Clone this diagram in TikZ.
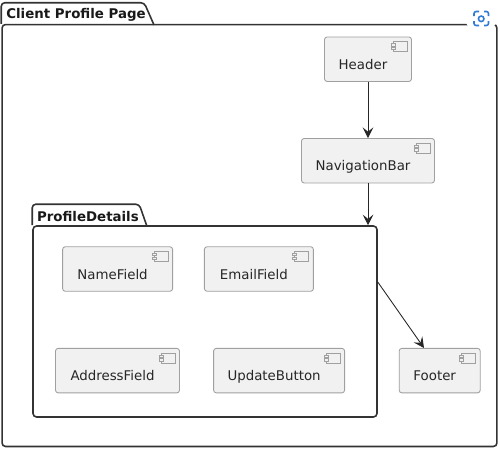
\documentclass[tikz,border=0pt]{standalone}
\usepackage{fontspec}
\setmainfont{DejaVu Sans}
\usepackage{tikz}
\usetikzlibrary{arrows.meta, calc}
\definecolor{compfill}{HTML}{F1F1F1}
\definecolor{compline}{HTML}{A0A0A0}
\definecolor{packline}{HTML}{333333}
\definecolor{lensblue}{HTML}{2F7BD6}
\tikzset{
  comp/.style={draw=compline, fill=compfill, line width=0.5pt, rounded corners=1.5pt, minimum height=0.89cm, inner sep=0pt, text=black!85, font=\fontsize{7.6}{9}\selectfont, text height=0.4cm, text depth=0pt, execute at end node={\kern 0.2cm}},
  pack/.style={draw=packline, line width=0.9pt, rounded corners=2pt, inner sep=0pt},
  packtitle/.style={anchor=base west, inner sep=0pt, text=black!90, font=\fontsize{7.6}{9}\selectfont\bfseries},
  flow/.style={draw=black!85, line width=0.5pt, -{Stealth[length=6pt, width=6pt, inset=2.4pt]}},
  compicon/.pic={
    \draw[draw=compline, line width=0.4pt, fill=compfill] (-19,5) rectangle (-5,15);
    \draw[draw=compline, line width=0.4pt, fill=compfill] (-21,7) rectangle (-17,9.5);
    \draw[draw=compline, line width=0.4pt, fill=compfill] (-21,10.8) rectangle (-17,13.3);
  }
}
\begin{document}
\begin{tikzpicture}[x=0.02cm, y=-0.02cm]
\useasboundingbox (0,0) rectangle (500,450);
\node[pack, minimum width=9.9cm, minimum height=8.44cm] (ClientPage) at (249.5,235.5) {};
\draw[pack] ($(ClientPage.north west)+(0,0)$) -- ++(0,-21) -- ++(143,0) -- (154,25);
\node[packtitle] (ClientTitle) at (6,18.3) {Client Profile Page};
\node[pack, minimum width=6.88cm, minimum height=3.82cm] (ProfileDetails) at (205,321.5) {};
\draw[pack] (ProfileDetails.north west) -- ++(0,-21) -- ++(107,0) -- (147,226.5);
\node[packtitle] (DetailsTitle) at (36.7,221.5) {ProfileDetails};
\node[comp, minimum width=1.74cm] (Header) at (368,59.2) {Header};
\node[comp, minimum width=2.66cm] (NavigationBar) at (368,160.7) {NavigationBar};
\node[comp, minimum width=2.2cm] (NameField) at (117.6,269) {NameField};
\node[comp, minimum width=2.18cm] (EmailField) at (258.9,269) {EmailField};
\node[comp, minimum width=2.48cm] (AddressField) at (117.5,370.6) {AddressField};
\node[comp, minimum width=2.62cm] (UpdateButton) at (279.1,370.6) {UpdateButton};
\node[comp, minimum width=1.62cm] (Footer) at (439.7,370.6) {Footer};
\foreach \name in {Header,NavigationBar,NameField,EmailField,AddressField,UpdateButton,Footer}
  \path (\name.north east) pic {compicon};
\coordinate (DetailsOut) at (ProfileDetails.east |- 0,282);
\coordinate (FooterIn) at (424,348);
\draw[flow] (Header) -- (NavigationBar);
\draw[flow] (NavigationBar) -- (NavigationBar |- ProfileDetails.north);
\draw[flow] (DetailsOut) -- (FooterIn);
\node[circle, fill=white, minimum size=0.62cm, inner sep=0pt] (LensBack) at (481,18) {};
\draw[lensblue, line width=0.9pt, rounded corners=1.2pt] (474,16) |- (479,11.5) (484,11.5) -| (488.5,16) (488.5,21) |- (484,25.5) (479,25.5) -| (474,21);
\node[circle, draw=lensblue, line width=0.9pt, minimum size=0.11cm, inner sep=0pt] (LensDot) at (481.2,18.8) {};
\end{tikzpicture}
\end{document}
